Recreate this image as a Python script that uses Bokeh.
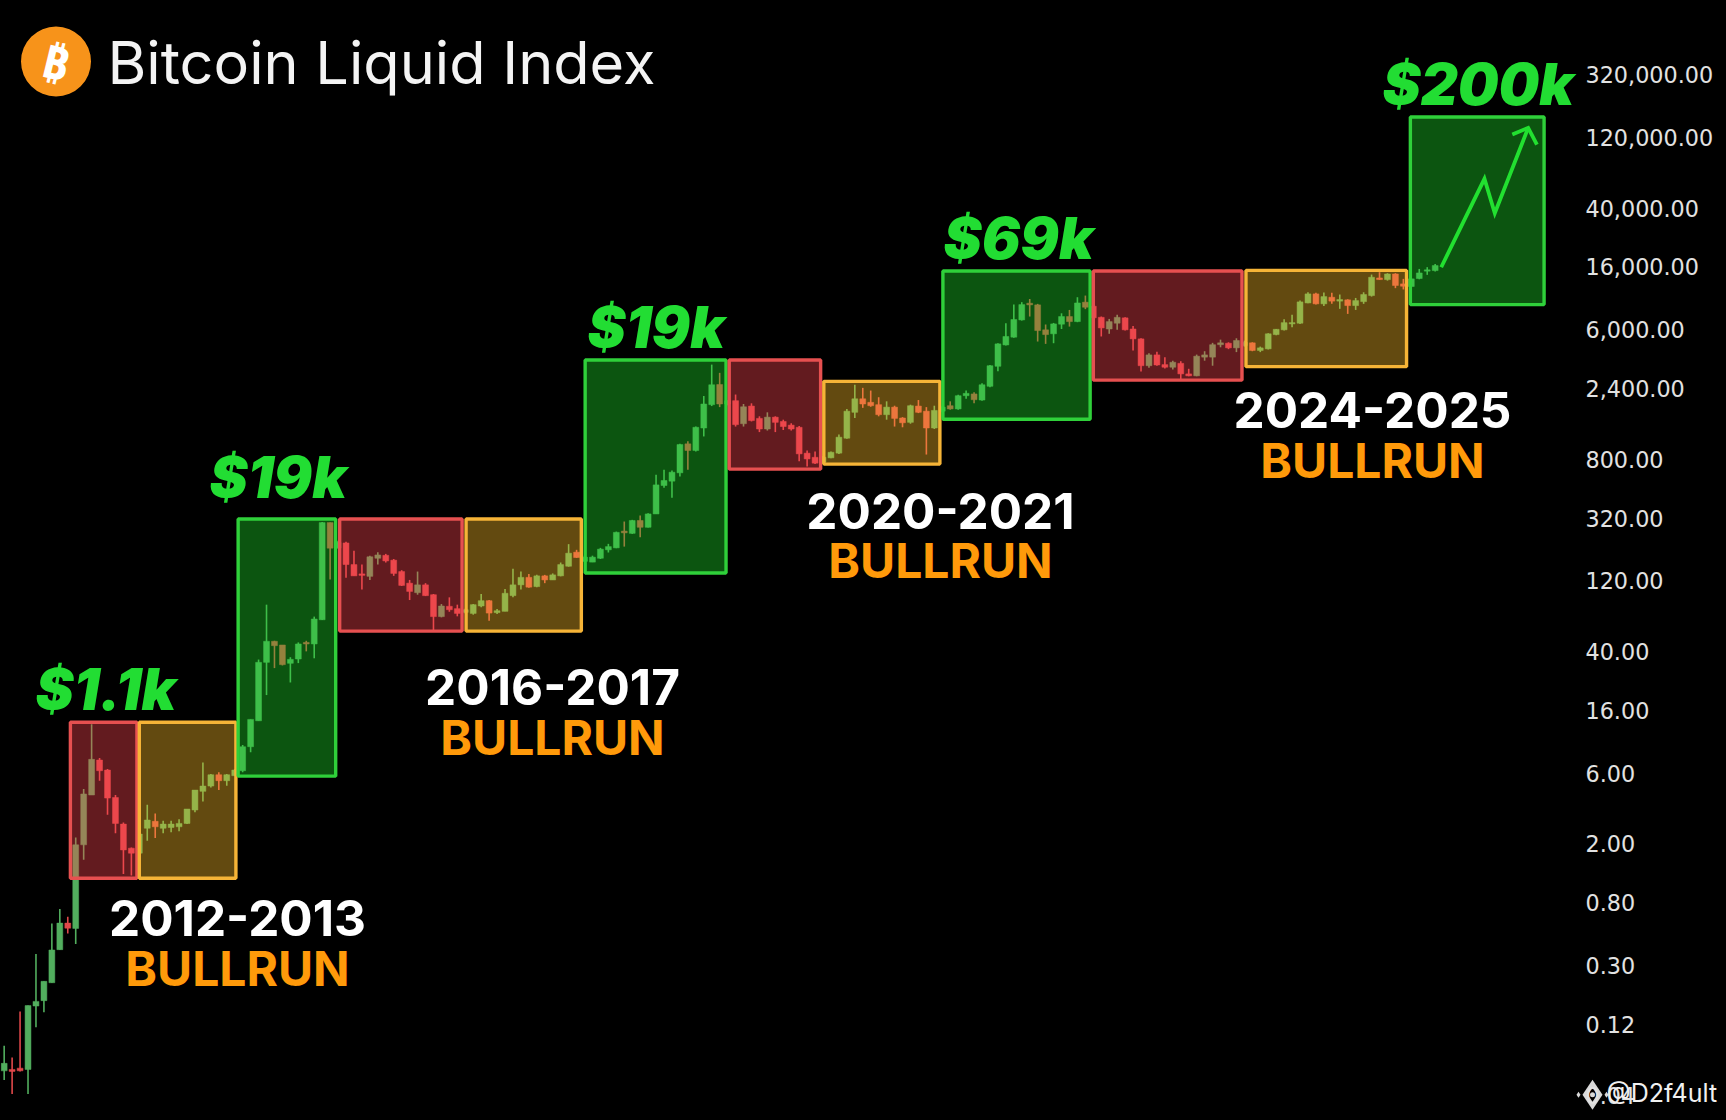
from bokeh.plotting import figure
from bokeh.models import Range1d, FixedTicker, Label
from bokeh.embed import file_html
from bokeh.resources import INLINE

# ---- monthly candles ----
opens = [0.0583,0.0596,0.0608,0.0596,0.160,0.174,0.230,0.385,0.582,0.536,
1.97,4.28,7.38,6.31,4.12,2.72,1.87,1.73,2.55,2.84,
2.55,2.58,2.61,2.75,3.39,4.53,4.92,5.87,5.35,5.78,
6.25,9.08,13.6,33.8,46.9,44.3,33.3,35.6,46.1,45.0,
65.6,298,200,217,155,134,129,171,179,166,
139,116,100,113,96.9,68.9,80.9,78,73.6,72.4,
81.3,88.3,73.3,74.8,95.5,113,127,110,130,122,
130,151,188,163,161,171,195,201,261,252,
308,277,341,531,568,647,1016,916,1300,1870,
2560,1890,1990,1390,1830,1510,1280,1540,1440,1360,
1315,879,824,764,817,879,1109,1660,2050,1940,
1870,1600,1800,1520,1420,1830,1690,1300,1690,1840,
1750,2150,2210,2010,2490,3400,4740,5350,7000,9080,
8850,6000,5640,6550,7380,6820,9230,8670,7290,6080,
6650,7230,6080,5210,3430,4060,3490,3350,3560,3020,
2930,3920,3920,4760,4870,4530,4700,4900,4350,4460,
5570,6000,6580,6650,9120,10500,8990,9970,9380,9570,
8750,9310,10230,13460,13120,14320,12270,11780,13340,14960,
15100]
highs = [0.0861,0.0719,0.147,0.161,0.360,0.235,0.579,0.724,0.643,2.21,
4.70,12.9,7.62,6.41,4.28,2.79,1.89,2.52,3.68,3.21,
2.87,2.87,2.93,3.44,4.62,7.11,5.93,6.10,5.93,6.41,
9.31,13.9,35.3,83.0,47.3,44.3,36.6,46.1,47.3,68.9,
301,298,225,221,192,155,178,188,183,169,
142,122,139,116,98,83.8,93,83,78,83.8,
98,89.2,77.6,106,145,139,134,132,132,135,
160,213,195,178,178,201,214,259,303,311,
333,345,627,678,670,1016,1059,1330,2140,3490,
3070,2000,2190,1890,1910,1560,1660,1560,1480,1400,
1340,916,901,840,901,1175,1750,2550,2430,2330,
2100,1970,1840,1540,1870,2010,1800,1840,1840,1970,
2180,2330,2270,2610,3470,4870,6650,8890,9230,9700,
8990,6520,6680,7760,8180,9970,10230,8750,7380,7110,
7600,7290,6380,5260,4170,4270,3920,3710,3680,3270,
4080,4300,4900,5150,4940,5260,5070,4940,4620,5690,
6080,7080,7600,9460,10770,10670,10720,10670,10400,9660,
9860,10770,14190,14720,14490,14490,13270,13460,15490,15920,
16750]
lows = [0.0505,0.0406,0.0578,0.0406,0.115,0.145,0.230,0.385,0.495,0.420,
1.56,4.28,5.35,3.15,2.36,1.25,1.22,1.72,2.10,2.19,
2.36,2.40,2.43,2.72,3.27,3.87,4.82,4.62,4.94,5.78,
6.10,8.32,13.6,20.3,30.9,32.2,24.7,33.4,40.1,36.0,
65.3,123,200,126,130,105,122,155,160,130,
111,89.2,96.9,94.9,55.3,68.1,74.3,69.2,72.4,71,
79.6,64.7,71.8,74.8,93,105,108,109,116,122,
129,150,172,161,161,169,187,200,205,250,
237,276,341,512,438,611,678,901,1140,1830,
1800,1850,1330,1330,1440,1220,1250,1220,1260,1250,
774,713,743,752,813,869,1099,1520,1780,1810,
1560,1480,1330,1315,1390,1640,860,1280,1660,1730,
1730,2050,1910,1990,2450,3150,4700,5300,6930,7380,
5000,4820,4870,6080,6310,6760,8280,7110,5410,5640,
6000,5930,4340,3130,3320,3430,3280,3230,2790,2910,
2910,3710,3430,4570,4440,4240,4620,4300,4240,4420,
5520,5930,6250,6580,9080,8890,8710,8990,8320,7690,
8180,8990,10070,13060,12910,11480,11250,11640,13180,14130,
14860]
closes = [0.0655,0.0578,0.0583,0.161,0.172,0.235,0.383,0.582,0.538,1.97,
4.35,7.46,6.25,4.08,2.75,1.82,1.73,2.33,2.90,2.61,
2.72,2.72,2.75,3.44,4.62,4.92,5.87,5.35,5.87,6.31,
9.08,13.9,33.8,46.9,43.8,32.6,35.4,45.0,45.0,66.4,
298,200,219,155,130,131,175,180,164,135,
112,102,113,95.5,68.9,81.3,76.7,72.4,76.7,83,
88.3,72.8,75.5,99.1,113,127,109,130,122,132,
155,185,173,174,174,197,205,256,254,308,
277,341,536,574,653,1005,916,1315,1890,2550,
1890,1990,1370,1810,1460,1280,1540,1420,1330,1280,
869,803,752,824,891,1127,1690,2050,1890,1840,
1600,1800,1510,1410,1840,1660,1300,1710,1800,1750,
2150,2230,2020,2550,3430,4820,5410,7050,8890,8850,
5930,5570,6580,7380,6820,9120,8530,7230,6180,6820,
7290,6000,5210,3430,4060,3470,3350,3620,3020,2930,
3980,4060,4760,4900,4530,5080,4940,4350,4530,5640,
6050,6710,6710,9270,10500,8990,10070,9380,9620,8750,
9460,10400,13610,13120,14320,11970,11830,13270,14550,15280,
16330]

# ---- cycle boxes: first candle, last candle, top price, bottom price, kind ----
box_left = [8.33,17.0,29.43,42.2,58.1,73.08,91.2,103.1,118.08,137.0,156.2,176.88]
box_right = [16.7,29.15,41.7,57.6,72.6,90.8,102.7,117.7,136.6,155.7,176.4,193.7]
box_top = [13.3,13.3,315,315,315,3750,3750,2690,15000,15000,15140,165000]
box_bottom = [1.17,1.17,5.74,55,55,136,685,741,1490,2740,3380,8890]
box_kind = ["bear","base","bull","bear","base","bull","bear","base","bull","bear","base","bull"]

# ---- hand-drawn projection arrow ----
proj_x = [180.76,186.2,187.5,191.7]
proj_y = [15900,63040,36860,139450]
head_x = [189.7,191.7,192.8]
head_y = [125600,139450,107500]

# ---- axis labels ----
tick_values = [320000,120000,40000,16000,6000,2400,800,320,120,40,16,6,2,0.8,0.3,0.12,0.04]
tick_labels = ["320,000.00","120,000.00","40,000.00","16,000.00","6,000.00","2,400.00","800.00",
               "320.00","120.00","40.00","16.00","6.00","2.00","0.80","0.30","0.12","0.04"]

peak_labels = ["$1.1k","$19k","$19k","$69k","$200k"]
run_labels = ["2012-2013","2016-2017","2020-2021","2024-2025"]

UP, DOWN = "#52ae5e", "#e0484a"
FILL = {"bull": "#1edc28", "bear": "#ff4650", "base": "#ffbe28"}
EDGE = {"bull": "#2fd03a", "bear": "#e65050", "base": "#f6b437"}
GREEN = "#22dd33"
ORANGE = "#ff9a0a"

W, H = 1726, 1120
LABEL_X = 1585
x0, x_step = 3.67, 7.95   # pixels of candle 0 and per candle
xr = Range1d(-x0 / x_step, (W - x0) / x_step)
yr = Range1d(0.0269, 1013500)

p = figure(width=W, height=H, x_range=xr, y_range=yr, y_axis_type="log",
           y_axis_location="right", output_backend="svg", toolbar_location=None,
           background_fill_color="black", border_fill_color="black",
           min_border_left=0, min_border_top=0, min_border_bottom=0, min_border_right=0,
           frame_width=W, frame_height=H)
p.outline_line_color = None
p.grid.visible = False
p.xaxis.visible = False

ax = p.yaxis[0]
ax.ticker = FixedTicker(ticks=tick_values)
ax.major_label_overrides = dict(zip(tick_values, tick_labels))
ax.axis_line_color = None
ax.major_tick_line_color = None
ax.minor_tick_line_color = None
ax.major_tick_in = 0
ax.major_tick_out = 0
ax.major_label_standoff = LABEL_X - W   # labels sit inside the black page, left aligned
ax.major_label_text_color = "#e2e2e2"
ax.major_label_text_font = "DejaVu Sans"
ax.major_label_text_font_size = "22.3px"

# candles
idx = list(range(len(opens)))
colors = [UP if c >= o else DOWN for o, c in zip(opens, closes)]
p.segment(idx, highs, idx, lows, line_color=colors, line_width=1.6)
p.vbar(x=idx, top=[max(o, c) for o, c in zip(opens, closes)],
       bottom=[min(o, c) for o, c in zip(opens, closes)],
       width=0.74, fill_color=colors, line_color=colors, line_width=0.5)

# translucent cycle boxes over the candles
p.quad(left=box_left, right=box_right, top=box_top, bottom=box_bottom,
       fill_color=[FILL[k] for k in box_kind], fill_alpha=0.39,
       line_color=[EDGE[k] for k in box_kind], line_width=3.4)

# arrow
p.line(proj_x, proj_y, line_color="#22e030", line_width=3.8, line_join="miter")
p.line(head_x, head_y, line_color="#22e030", line_width=3.8, line_join="miter")


def page_x(px):
    return (px - x0) / x_step


def page_y(py):
    return 320000 * 10 ** (-(py - 74) / 147.8)


def text(t, x, y, size, color, font="Inter", style="normal", align="left", base="alphabetic", angle=0):
    # y is the wanted baseline in page pixels; the alphabetic anchor sits 0.375 em lower
    y_adj = y - 0.375 * size if base == "alphabetic" else y
    p.add_layout(Label(x=x, y=H - y_adj, x_units="screen", y_units="screen", text=t, text_color=color,
                       text_font=font, text_font_size=f"{size}px", text_font_style=style,
                       text_align=align, text_baseline=base, angle=angle))


# header
p.scatter([page_x(55.5)], [page_y(61)], size=70, marker="circle", fill_color="#f7931a", line_color=None)
text("\u20bf", 55.5, 61, 46, "white", font="Noto Sans", style="bold", align="center", base="middle", angle=-0.24)
text("Bitcoin Liquid Index", 107, 84, 59.4, "#f4f4f4")

# peak labels
HEAVY = '"Inter Black","Roboto Black","Lato Black",Inter'
for t, x, y in zip(peak_labels, [35, 209, 587, 943, 1382], [710, 498, 348, 259, 105]):
    text(t, x, y, 57.3, GREEN, font=HEAVY, style="bold italic")

# bull run labels
for t, x, y1, y2 in zip(run_labels, [237, 552, 940, 1372], [936, 705, 529, 428], [986, 755, 578, 478]):
    text(t, x, y1, 49.5, "white", style="bold", align="center")
    text("BULLRUN", x, y2, 48, ORANGE, style="bold", align="center")

# watermark
p.scatter([page_x(1592)], [page_y(1094)], size=30, marker="diamond", fill_color="#d9d9d9", line_color=None)
p.scatter([page_x(1592)], [page_y(1094)], size=14, marker="diamond", fill_color="black", line_color=None)
p.scatter([page_x(1592)], [page_y(1094)], size=5, marker="circle", fill_color="#d9d9d9", line_color=None)
p.scatter([page_x(1578), page_x(1606)], [page_y(1094)] * 2, size=6, marker="diamond", fill_color="#d9d9d9", line_color=None)
text("@D2f4ult", 1606, 1102, 25, "#f0f0f0")

html = file_html(p, INLINE)
html = html.replace("<head>", "<head><style>html,body{margin:0;background:#000;overflow:hidden}</style>", 1)
open("out.html", "w").write(html)
